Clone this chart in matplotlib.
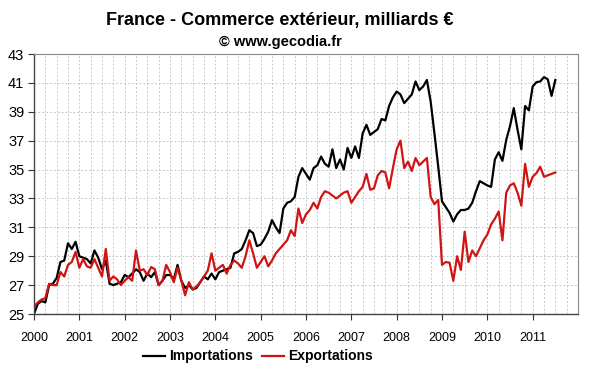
import numpy as np
import matplotlib
matplotlib.use("Agg")
import matplotlib.pyplot as plt
from matplotlib.ticker import MultipleLocator

plt.rcParams['font.family'] = ['Liberation Sans', 'DejaVu Sans']

# Monthly values, Jan 2000 .. Jul 2011 (billions EUR)
imports_vals = [
    # 2000
    25.0, 25.7, 25.9, 25.8, 27.0, 27.1, 27.5, 28.6, 28.7, 29.9, 29.5, 30.0,
    # 2001
    29.0, 28.9, 28.8, 28.5, 29.4, 28.9, 28.1, 28.7, 27.1, 27.0, 27.1, 27.2,
    # 2002
    27.7, 27.55, 27.8, 28.1, 27.9, 27.3, 27.8, 27.55, 27.9, 27.0, 27.3, 27.7,
    # 2003
    27.7, 27.4, 28.4, 27.3, 26.8, 27.0, 26.7, 26.8, 27.2, 27.6, 27.4, 27.8,
    # 2004
    27.4, 27.9, 28.0, 28.1, 28.2, 29.2, 29.3, 29.5, 30.1, 30.8, 30.6, 29.7,
    # 2005
    29.8, 30.2, 30.7, 31.5, 31.0, 30.6, 32.3, 32.7, 32.8, 33.1, 34.5, 35.1,
    # 2006
    34.7, 34.3, 35.1, 35.3, 35.9, 35.4, 35.2, 36.4, 35.1, 35.7, 35.0, 36.5,
    # 2007
    35.8, 36.6, 35.8, 37.5, 38.1, 37.4, 37.6, 37.8, 38.5, 38.4, 39.4, 40.0,
    # 2008
    40.4, 40.2, 39.6, 39.9, 40.2, 41.1, 40.5, 40.75, 41.2, 39.7, 37.5, 35.2,
    # 2009
    32.8, 32.4, 32.0, 31.4, 31.9, 32.2, 32.2, 32.3, 32.7, 33.5, 34.2, 34.05,
    # 2010
    33.9, 33.8, 35.7, 36.2, 35.6, 37.05, 38.0, 39.25, 37.75, 36.4, 39.4, 39.1,
    # 2011
    40.75, 41.05, 41.1, 41.4, 41.25, 40.1, 41.2,
]

exports_vals = [
    # 2000
    25.5, 25.8, 26.0, 26.1, 27.1, 27.0, 27.0, 27.9, 27.6, 28.4, 28.6, 29.3,
    # 2001
    28.2, 28.8, 28.3, 28.2, 28.8, 28.2, 27.6, 29.5, 27.3, 27.6, 27.4, 27.0,
    # 2002
    27.3, 27.55, 27.3, 29.4, 28.0, 28.1, 27.7, 28.25, 28.1, 27.0, 27.3, 28.4,
    # 2003
    27.9, 27.2, 28.2, 27.3, 26.3, 27.2, 26.7, 26.9, 27.2, 27.6, 28.0, 29.2,
    # 2004
    28.0, 28.2, 28.4, 27.8, 28.4, 28.7, 28.5, 28.2, 29.0, 30.1, 29.2, 28.2,
    # 2005
    28.6, 29.0, 28.3, 28.7, 29.2, 29.5, 29.8, 30.1, 30.8, 30.4, 32.3, 31.3,
    # 2006
    31.9, 32.2, 32.7, 32.3, 33.1, 33.5, 33.4, 33.2, 33.0, 33.2, 33.4, 33.5,
    # 2007
    32.7, 33.1, 33.5, 33.8, 34.7, 33.6, 33.7, 34.6, 34.9, 34.8, 33.7, 35.1,
    # 2008
    36.4, 37.0, 35.1, 35.55, 34.9, 35.8, 35.3, 35.55, 35.8, 33.1, 32.6, 32.9,
    # 2009
    28.4, 28.6, 28.55, 27.3, 29.0, 28.05, 30.7, 28.6, 29.4, 29.0, 29.55, 30.1,
    # 2010
    30.5, 31.2, 31.6, 32.1, 30.1, 33.4, 33.9, 34.05, 33.4, 32.5, 35.4, 33.8,
    # 2011
    34.5, 34.75, 35.2, 34.5, 34.6, 34.7, 34.8,
]

year_ticks = list(range(2000, 2012))
y_ticks = [25, 27, 29, 31, 33, 35, 37, 39, 41, 43]
series_names = ["Importations", "Exportations"]

t = 2000 + np.arange(len(imports_vals)) / 12.0

fig = plt.figure(figsize=(6.0, 3.72), dpi=100)
ax = fig.add_axes([34/600, 1 - 314/372, (578-34)/600, (314-54)/372])

l1, = ax.plot(t, imports_vals, color='black', lw=1.6, label=series_names[0])
l2, = ax.plot(t, exports_vals, color='#d01414', lw=1.6, label=series_names[1])

ax.set_xlim(2000, 2012)
ax.set_ylim(25, 43)
ax.set_xticks(year_ticks)
ax.set_xticklabels([str(y) for y in year_ticks])
ax.xaxis.set_minor_locator(MultipleLocator(0.25))
ax.set_yticks(y_ticks)

ax.grid(True, which='major', axis='y', color='#c8c8c8', ls=(0, (2, 2)), lw=0.7)
ax.grid(True, which='both', axis='x', color='#c8c8c8', ls=(0, (2, 2)), lw=0.7)
ax.tick_params(axis='x', which='minor', length=0)
ax.tick_params(axis='x', which='major', length=4, pad=9, labelsize=9, color='#333333')
ax.tick_params(axis='y', length=4, pad=3, labelsize=10.5, color='#333333')

for s in ['left', 'bottom']:
    ax.spines[s].set_color('#444444')
    ax.spines[s].set_linewidth(1.0)
for s in ['top', 'right']:
    ax.spines[s].set_color('#888888')
    ax.spines[s].set_linewidth(0.8)

fig.text(0.467, 0.945, "France - Commerce extérieur, milliards €",
         ha='center', va='center', fontsize=13, fontweight='bold')
fig.text(0.467, 0.888, "© www.gecodia.fr",
         ha='center', va='center', fontsize=10.5, fontweight='bold')

fig.legend(handles=[l1, l2], loc='center', bbox_to_anchor=(0.43, 0.042),
           ncol=2, frameon=False, handlelength=1.6, handletextpad=0.3,
           columnspacing=0.6, prop={'weight': 'bold', 'size': 10})

fig.savefig("out.png", dpi=100, facecolor='white')
